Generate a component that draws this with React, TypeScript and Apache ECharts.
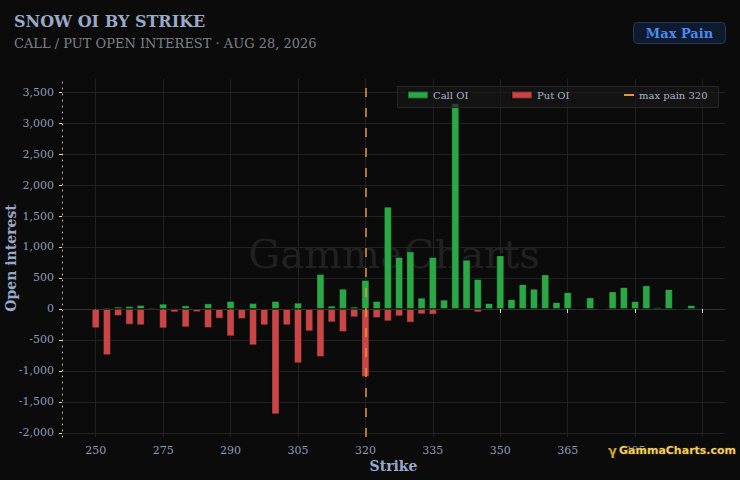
import React, { useEffect, useRef } from "react";
import * as echarts from "echarts";

const strikes = [
  250, 255, 260, 265, 270, 272.5, 275, 277.5, 280, 282.5, 285, 287.5, 290, 292.5,
  295, 297.5, 300, 302.5, 305, 307.5, 310, 312.5, 315, 317.5, 320, 322.5, 325,
  327.5, 330, 332.5, 335, 337.5, 340, 342.5, 345, 347.5, 350, 352.5, 355, 357.5,
  360, 362.5, 365, 367.5, 370, 372.5, 375, 380, 385, 390, 395, 400, 405, 410,
];

const callOI = [
  20, 25, 38, 48, 65, 25, 86, 20, 59, 12, 91, 5, 129, 5,
  97, 5, 129, 15, 102, 15, 565, 54, 328, 38, 468, 129, 1650,
  839, 930, 183, 839, 151, 3320, 796, 484, 97, 866, 161, 403, 328,
  559, 113, 274, 8, 188, 6, 285, 355, 129, 382, 32, 323, 5, 65,
];

const putOI = [
  -310, -745, -113, -253, -263, -25, -312, -54, -296, -50, -306, -156, -441, -161,
  -586, -263, -1699, -263, -876, -360, -774, -215, -371, -134, -1097, -145, -199,
  -118, -220, -86, -91, -5, -22, 0, -54, 0, 0, 0, 0, 0,
  0, 0, 0, 0, 0, 0, 0, 0, 0, 0, 0, 0, 0, 0,
];

const maxPainStrike = "320";
const yMin = -2065;
const yMax = 3710;

const SERIF = "DejaVu Serif";
const PAD = 3;
const LABEL_EVERY = 6;

export default function App() {
  const ref = useRef<HTMLDivElement>(null);

  useEffect(() => {
    if (!ref.current) return;
    const chart = echarts.init(ref.current, null, { renderer: "svg" });

    const padCats = Array.from({ length: PAD }, () => "");
    const cats = [...padCats, ...strikes.map(String), ...padCats];
    const padVals = Array.from({ length: PAD }, () => null);
    const callData = [...padVals, ...callOI, ...padVals];
    const putData = [...padVals, ...putOI, ...padVals];
    const showIdx = (i: number) => i % LABEL_EVERY === PAD;

    chart.setOption({
      animation: false,
      backgroundColor: "#0b0b0b",
      textStyle: { fontFamily: SERIF },
      title: {
        text: "SNOW OI BY STRIKE",
        subtext: "CALL / PUT OPEN INTEREST · AUG 28, 2026",
        left: 14,
        top: 13,
        itemGap: 8,
        padding: 0,
        textStyle: { fontFamily: SERIF, fontWeight: "bold", fontSize: 16, color: "#9aa8c9" },
        subtextStyle: { fontFamily: SERIF, fontSize: 13, color: "#7c818b" },
      },
      grid: { left: 62, right: 15, top: 79, bottom: 43, containLabel: false, outerBoundsMode: "none" },
      legend: [
        {
          data: [{ name: "Call OI", icon: "rect" }],
          left: 407, top: 90, padding: 0, itemWidth: 20, itemHeight: 7, z: 20,
          textStyle: { color: "#a9b4cc", fontSize: 10, fontFamily: SERIF },
        },
        {
          data: [{ name: "Put OI", icon: "rect" }],
          left: 511, top: 90, padding: 0, itemWidth: 20, itemHeight: 7, z: 20,
          textStyle: { color: "#a9b4cc", fontSize: 10, fontFamily: SERIF },
        },
        {
          data: [{ name: "max pain 320", icon: "rect" }],
          left: 624, top: 90, padding: 0, itemWidth: 10, itemHeight: 2, z: 20,
          textStyle: { color: "#a9b4cc", fontSize: 10, fontFamily: SERIF },
        },
      ],
      xAxis: {
        type: "category",
        data: cats,
        boundaryGap: false,
        name: "Strike",
        nameLocation: "middle",
        nameGap: 22,
        nameMoveOverlap: false,
        nameTextStyle: { color: "#9aa8c9", fontWeight: "bold", fontSize: 14, fontFamily: SERIF },
        axisLine: { lineStyle: { color: "#333333" } },
        axisTick: { interval: showIdx, length: 4, lineStyle: { color: "#d8d8d8" } },
        axisLabel: { interval: showIdx, color: "#8e9ab6", fontSize: 11, margin: 8, fontFamily: SERIF },
        splitLine: { show: true, interval: showIdx, lineStyle: { color: "#222222" } },
      },
      yAxis: {
        type: "value",
        min: yMin,
        max: yMax,
        splitNumber: 11,
        minInterval: 500,
        maxInterval: 500,
        name: "Open interest",
        nameLocation: "middle",
        nameGap: 44,
        nameMoveOverlap: false,
        nameRotate: 90,
        nameTextStyle: { color: "#9aa8c9", fontWeight: "bold", fontSize: 14, fontFamily: SERIF },
        axisLine: { show: true, lineStyle: { color: "#bdbdbd", type: [1, 5] } },
        axisTick: { show: true, length: 3, lineStyle: { color: "#d8d8d8" } },
        axisLabel: {
          color: "#8e9ab6",
          fontSize: 11,
          fontFamily: SERIF,
          showMinLabel: false,
          showMaxLabel: false,
          formatter: (v: number) => v.toLocaleString("en-US"),
        },
        splitLine: { show: true, showMinLine: false, showMaxLine: false, lineStyle: { color: "#222222" } },
      },
      series: [
        {
          name: "Call OI",
          type: "bar",
          stack: "oi",
          barWidth: 8,
          data: callData,
          itemStyle: { color: "#2aa845", borderColor: "rgba(0,0,0,0.35)", borderWidth: 1 },
          markLine: {
            silent: true,
            symbol: "none",
            label: { show: false },
            lineStyle: { color: "#e8963a", width: 1.5, type: [9, 11] },
            data: [{ xAxis: cats.indexOf(maxPainStrike) }],
          },
        },
        {
          name: "Put OI",
          type: "bar",
          stack: "oi",
          barWidth: 8,
          data: putData,
          itemStyle: { color: "#c84646", borderColor: "rgba(0,0,0,0.35)", borderWidth: 1 },
        },
        {
          name: "max pain 320",
          type: "line",
          data: [],
          itemStyle: { color: "#e8963a" },
          lineStyle: { color: "#e8963a" },
        },
      ],
      graphic: [
        {
          type: "text",
          z: 0,
          zlevel: 0,
          x: 394,
          y: 254,
          style: {
            text: "GammaCharts",
            fontFamily: SERIF,
            fontSize: 40,
            fill: "rgba(255,255,255,0.1)",
            align: "center",
            verticalAlign: "middle",
          },
        },
        {
          type: "rect",
          z: 10,
          shape: { x: 397.5, y: 86.5, width: 321, height: 21 },
          style: { fill: "rgba(24,24,24,0.65)", stroke: "#262626", lineWidth: 1 },
        },
        {
          type: "rect",
          z: 10,
          shape: { x: 633.5, y: 22.5, width: 92, height: 21, r: 4 },
          style: { fill: "#0f1a2e", stroke: "#24395c", lineWidth: 1 },
        },
        {
          type: "text",
          z: 11,
          x: 679.5,
          y: 33.5,
          style: {
            text: "Max Pain",
            fontFamily: SERIF,
            fontWeight: "bold",
            fontSize: 13,
            fill: "#4a8df0",
            align: "center",
            verticalAlign: "middle",
          },
        },
        {
          type: "text",
          z: 12,
          x: 608,
          y: 450,
          style: {
            text: "γ",
            fontFamily: "DejaVu Sans",
            fontWeight: "bold",
            fontSize: 13,
            fill: "#d9a520",
            verticalAlign: "middle",
          },
        },
        {
          type: "text",
          z: 12,
          x: 619,
          y: 450,
          style: {
            text: "GammaCharts.com",
            fontFamily: "DejaVu Sans",
            fontWeight: "bold",
            fontSize: 11,
            fill: "#f0cc60",
            stroke: "#3a2a00",
            lineWidth: 1,
            verticalAlign: "middle",
          },
        },
      ],
    });

    return () => chart.dispose();
  }, []);

  return (
    <div
      ref={ref}
      style={{ position: "fixed", left: 0, top: 0, width: 740, height: 480 }}
    />
  );
}
